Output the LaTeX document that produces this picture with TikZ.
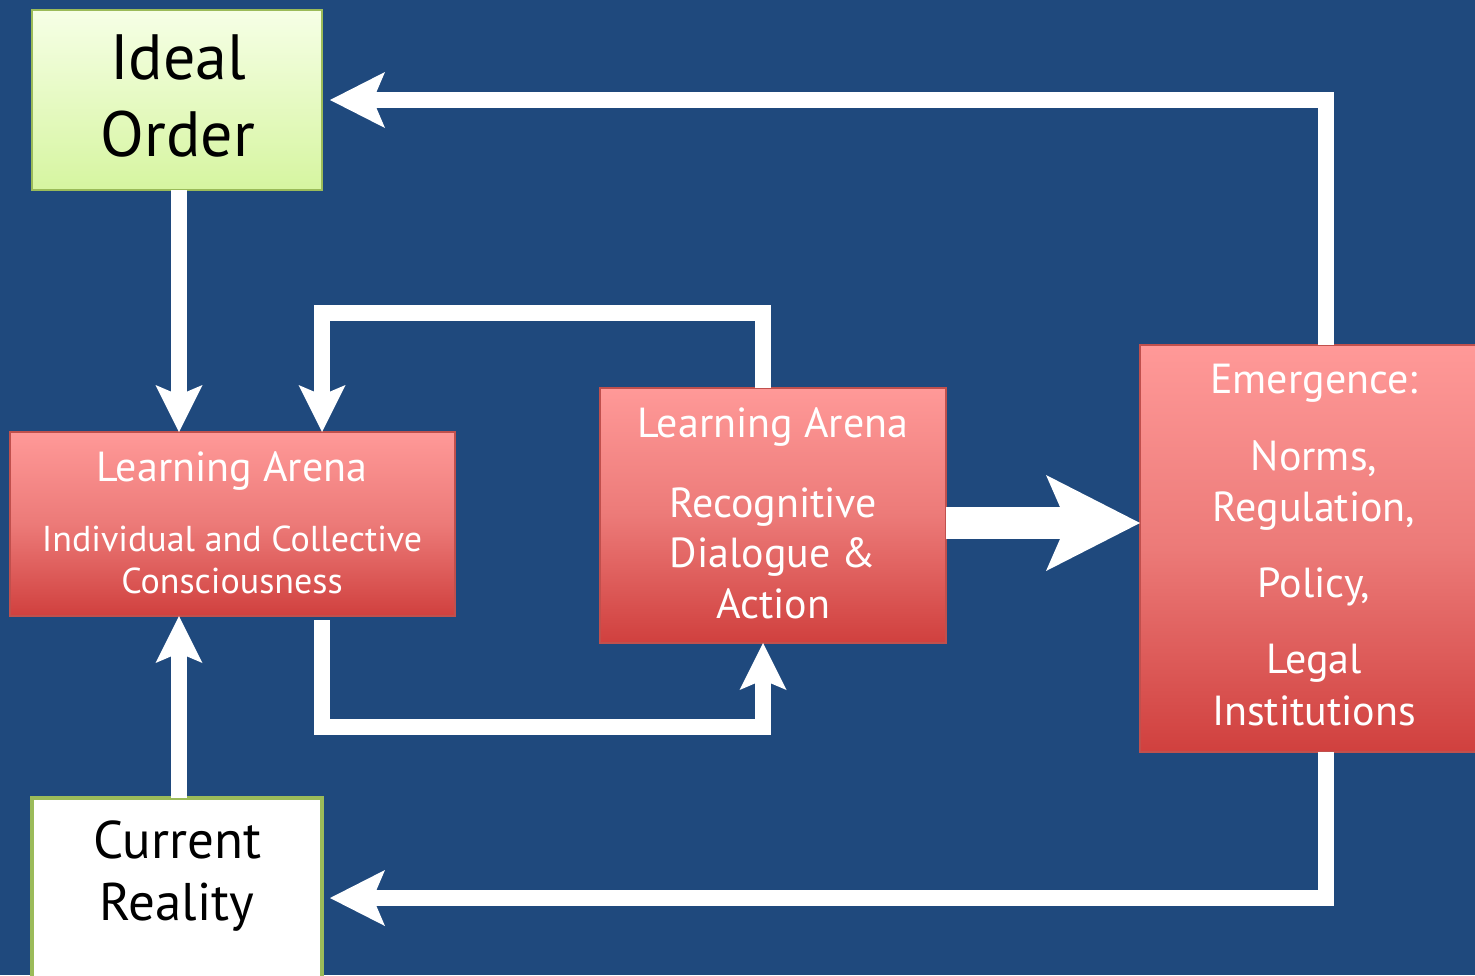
\documentclass[tikz,border=0pt]{standalone}
\usepackage{fontspec}
\setmainfont{PT Sans}
\usetikzlibrary{arrows.meta}
\definecolor{bg}{RGB}{31,73,125}
\definecolor{grnb}{RGB}{155,187,89}
\definecolor{gtop}{RGB}{246,255,230}
\definecolor{gbot}{RGB}{214,245,160}
\definecolor{rtop}{RGB}{255,153,152}
\definecolor{rmid}{RGB}{236,122,120}
\definecolor{rbot}{RGB}{208,64,62}
\definecolor{redb}{RGB}{192,80,77}
\tikzset{
  boxbase/.style={inner sep=0pt, outer sep=0pt, anchor=north west},
  greenbox/.style={boxbase, draw=grnb, line width=1pt, top color=gtop, bottom color=gbot},
  whitebox/.style={boxbase, draw=grnb, line width=2pt, fill=white},
  redbox/.style={boxbase, draw=redb, line width=0.75pt, top color=rtop, bottom color=rbot, middle color=rmid},
  txt/.style={inner sep=0pt, outer sep=0pt, anchor=base},
  wtxt/.style={txt, text=white, font=\fontsize{21pt}{25pt}\selectfont},
  btxt/.style={txt, text=black},
  hconn/.style={draw=white, line width=8pt, line join=miter,
    -{Stealth[length=27.5pt,width=28pt,inset=6pt,line width=0pt]}},
  vconn/.style={draw=white, line width=8pt, line join=miter,
    -{Stealth[length=23.5pt,width=23.5pt,inset=5pt,line width=0pt]}},
  bigconn/.style={draw=white, line width=16pt,
    -{Stealth[length=47pt,width=48pt,inset=10.5pt,line width=0pt]}},
}
\begin{document}
\begin{tikzpicture}[x=0.5pt,y=-0.5pt]
\useasboundingbox (0,0) rectangle (1475,975);
\clip (0,0) rectangle (1475,975);
\fill[bg] (0,0) rectangle (1475,975);

% boxes
\node[greenbox, minimum width=145pt, minimum height=90pt] (ideal) at (32,10) {};
\node[whitebox, minimum width=145pt, minimum height=100pt] (cur) at (32,798) {};
\node[redbox, minimum width=222.5pt, minimum height=92pt] (left) at (10,432) {};
\node[redbox, minimum width=173pt, minimum height=127.5pt] (mid) at (600,388) {};
\node[redbox, minimum width=172pt, minimum height=203.5pt] (emer) at (1140,345) {};

% texts
\node[btxt, font=\fontsize{32pt}{38pt}\selectfont] (t1) at (178,79) {Ideal};
\node[btxt, font=\fontsize{32pt}{38pt}\selectfont] (t2) at (178,156) {Order};
\node[btxt, font=\fontsize{26.5pt}{31pt}\selectfont] (t3) at (177,858) {Current};
\node[btxt, font=\fontsize{26.5pt}{31pt}\selectfont] (t4) at (177,920) {Reality};

\node[wtxt] (l1) at (232,481) {Learning Arena};
\node[wtxt, font=\fontsize{18pt}{22pt}\selectfont] (l2) at (232,551) {Individual and Collective};
\node[wtxt, font=\fontsize{18pt}{22pt}\selectfont] (l3) at (232,593) {Consciousness};

\node[wtxt] (m1) at (773,437) {Learning Arena};
\node[wtxt] (m2) at (773,517) {Recognitive};
\node[wtxt] (m3) at (773,567) {Dialogue \&};
\node[wtxt] (m4) at (773,618) {Action};

\node[wtxt] (e1) at (1314,393) {Emergence:};
\node[wtxt] (e2) at (1314,470) {Norms,};
\node[wtxt] (e3) at (1314,521) {Regulation,};
\node[wtxt] (e4) at (1314,597) {Policy,};
\node[wtxt] (e5) at (1314,673) {Legal};
\node[wtxt] (e6) at (1314,725) {Institutions};

% routing points
\coordinate (tr) at (1326,100);
\coordinate (br) at (1326,898);
\coordinate (la) at (763,313);
\coordinate (lb) at (322,313);
\coordinate (lc) at (322,727);
\coordinate (ld) at (763,727);
\coordinate (ba) at (946,523);
\coordinate (va) at (179,300);

% connectors
\draw[hconn, shorten >=4pt] (tr |- emer.north) -- (tr) -- (ideal.east |- tr);
\draw[hconn, shorten >=4pt] (br |- emer.south) -- (br) -- (cur.east |- br);
\draw[vconn] (va |- ideal.south) -- (va |- left.north);
\draw[vconn] (va |- cur.north) -- (va |- left.south);
\draw[vconn] (la |- mid.north) -- (la) -- (lb) -- (lb |- left.north);
\draw[vconn] ([yshift=-2pt]lc |- left.south) -- (lc) -- (ld) -- (ld |- mid.south);
\draw[bigconn] (ba -| mid.east) -- (ba -| emer.west);
\end{tikzpicture}
\end{document}
